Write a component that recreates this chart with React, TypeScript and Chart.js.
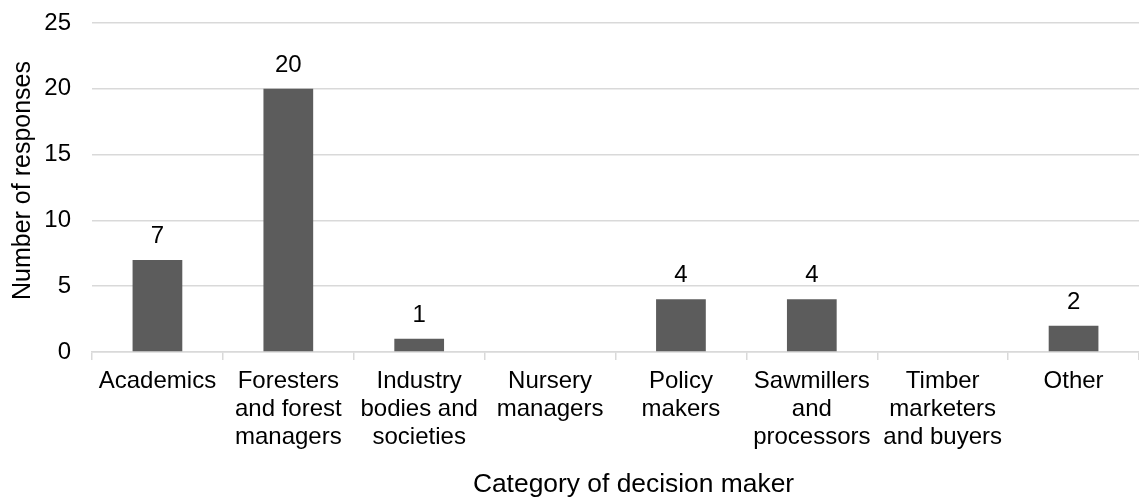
import React, { useEffect, useRef } from "react";
import { Chart, registerables } from "chart.js";

Chart.register(...registerables);

const categories: string[][] = [
  ["Academics"],
  ["Foresters", "and forest", "managers"],
  ["Industry", "bodies and", "societies"],
  ["Nursery", "managers"],
  ["Policy", "makers"],
  ["Sawmillers", "and", "processors"],
  ["Timber", "marketers", "and buyers"],
  ["Other"],
];
const responses: number[] = [7, 20, 1, 0, 4, 4, 0, 2];
const yTicks: number[] = [0, 5, 10, 15, 20, 25];
const xTitle = "Category of decision maker";
const yTitle = "Number of responses";

const FONT = "'Liberation Sans', Arial, sans-serif";

const valueLabels = {
  id: "valueLabels",
  afterDatasetsDraw(chart: any) {
    const ctx = chart.ctx;
    const meta = chart.getDatasetMeta(0);
    ctx.save();
    ctx.font = `24px ${FONT}`;
    ctx.fillStyle = "#000";
    ctx.textAlign = "center";
    ctx.textBaseline = "alphabetic";
    meta.data.forEach((bar: any, i: number) => {
      const v = responses[i];
      if (!v) return;
      ctx.fillText(String(v), bar.x, bar.y - 17);
    });
    ctx.restore();
  },
};

const axisTitles = {
  id: "axisTitles",
  afterDraw(chart: any) {
    const ctx = chart.ctx;
    const ca = chart.chartArea;
    ctx.save();
    ctx.fillStyle = "#000";
    ctx.textAlign = "center";
    // y title
    ctx.font = `25px ${FONT}`;
    ctx.textBaseline = "middle";
    ctx.save();
    ctx.translate(23, (ca.top + ca.bottom) / 2 - 7);
    ctx.rotate(-Math.PI / 2);
    ctx.fillText(yTitle, 0, 0);
    ctx.restore();
    // x title
    ctx.font = `26.4px ${FONT}`;
    ctx.textBaseline = "alphabetic";
    ctx.fillText(xTitle, (ca.left + ca.right) / 2 + 18, 492);
    ctx.restore();
  },
};

export default function App() {
  const ref = useRef<HTMLCanvasElement | null>(null);
  useEffect(() => {
    document.body.style.margin = "0";
    const canvas = ref.current!;
    const chart = new Chart(canvas, {
      type: "bar",
      data: {
        labels: categories,
        datasets: [
          {
            data: responses,
            backgroundColor: "#5c5c5c",
            borderWidth: 0,
            categoryPercentage: 1,
            barPercentage: 0.38,
          },
        ],
      },
      options: {
        animation: false,
        responsive: false,
        maintainAspectRatio: false,
        layout: { padding: { top: 23, left: 0, right: 0, bottom: 0 } },
        plugins: { legend: { display: false }, tooltip: { enabled: false } },
        scales: {
          x: {
            grid: {
              offset: true,
              drawOnChartArea: false,
              drawTicks: true,
              tickLength: 8,
              color: "#d9d9d9",
              lineWidth: 1.5,
            },
            border: { display: true, color: "#d9d9d9", width: 1.5 },
            ticks: {
              autoSkip: false,
              maxRotation: 0,
              minRotation: 0,
              color: "#000",
              padding: 8,
              font: { family: FONT, size: 24, lineHeight: 1.15 },
            },
            title: { display: false },
            afterFit: (s: any) => {
              s.height = 146;
              s.paddingLeft = 0;
              s.paddingRight = 0;
            },
          },
          y: {
            min: 0,
            max: 25,
            afterBuildTicks: (s: any) => {
              s.ticks = yTicks.map((v) => ({ value: v }));
            },
            grid: { color: "#d9d9d9", lineWidth: 1.5, drawTicks: false },
            border: { display: false },
            ticks: {
              color: "#000",
              padding: 21,
              font: { family: FONT, size: 24 },
            },
            title: { display: false },
            afterFit: (s: any) => {
              s.width = 92;
              s.paddingTop = 0;
              s.paddingBottom = 0;
            },
          },
        },
      },
      plugins: [valueLabels, axisTitles],
    });
    return () => chart.destroy();
  }, []);
  return <canvas ref={ref} width={1139} height={498} style={{ display: "block" }} />;
}
